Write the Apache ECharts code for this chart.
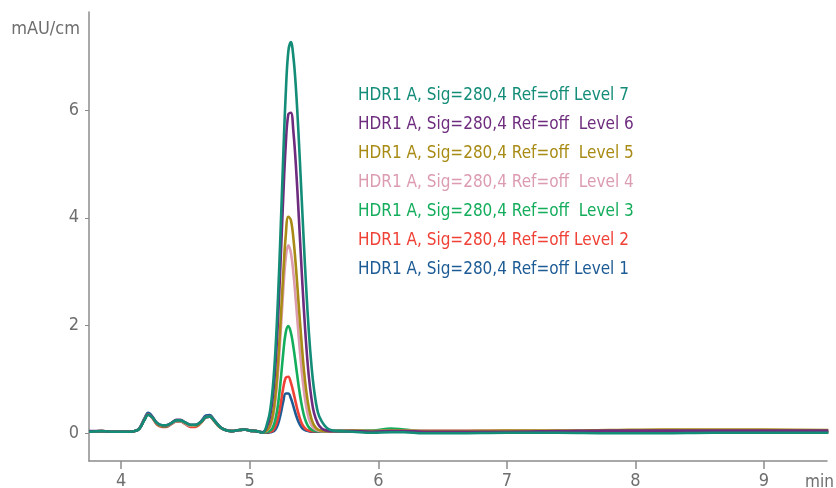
<!DOCTYPE html>
<html>
<head>
<meta charset="utf-8">
<title>HDR1 A, Sig=280,4 Ref=off</title>
<script src="https://cdn.jsdelivr.net/npm/echarts@6/dist/echarts.min.js"></script>
<style>
  html, body { margin: 0; padding: 0; background: #fff; }
  #chart { width: 836px; height: 488px; }
</style>
</head>
<body>
<div id="chart"></div>
<script>
  // retention time (min): before peak, main peak, after peak
  const times = [
    3.75, 3.85, 3.95, 4.05, 4.10, 4.14, 4.18, 4.21, 4.24, 4.28, 4.32, 4.35, 4.39, 4.43, 4.46,
    4.50, 4.54, 4.58, 4.62, 4.66, 4.69, 4.72, 4.76, 4.80, 4.86, 4.92, 4.96, 5.00, 5.05, 5.10,
    5.14, 5.16, 5.18, 5.20, 5.22, 5.24, 5.26, 5.28, 5.30, 5.32, 5.34, 5.36, 5.38, 5.40, 5.42,
    5.44, 5.46, 5.48, 5.50, 5.53, 5.56, 5.60, 5.65, 5.70,
    5.80, 5.95, 6.10, 6.20, 6.35, 6.60, 7.00, 7.40, 7.80, 8.20, 8.60, 9.00, 9.50
  ]

  // absorbance (mAU/cm) per calibration level
  const level1 = [
    0.03, 0.04, 0.03, 0.03, 0.04, 0.09, 0.27, 0.38, 0.32, 0.18, 0.14, 0.14, 0.18, 0.23, 0.23,
    0.18, 0.14, 0.15, 0.22, 0.33, 0.34, 0.26, 0.14, 0.07, 0.04, 0.06, 0.07, 0.05, 0.04, 0.02,
    0.01, 0.02, 0.03, 0.07, 0.17, 0.35, 0.58, 0.74, 0.74, 0.65, 0.50, 0.34, 0.21, 0.12, 0.07,
    0.05, 0.04, 0.03, 0.03, 0.03, 0.03, 0.03, 0.03, 0.03,
    0.03, 0.03, 0.04, 0.03, 0.03, 0.02, 0.02, 0.02, 0.02, 0.02, 0.02, 0.02, 0.02
  ]
  const level2 = [
    0.03, 0.04, 0.03, 0.03, 0.04, 0.08, 0.25, 0.35, 0.29, 0.16, 0.12, 0.12, 0.17, 0.22, 0.22,
    0.17, 0.12, 0.12, 0.19, 0.30, 0.31, 0.24, 0.13, 0.07, 0.04, 0.06, 0.07, 0.05, 0.04, 0.02,
    0.02, 0.03, 0.05, 0.13, 0.28, 0.53, 0.83, 1.03, 1.05, 0.94, 0.76, 0.55, 0.36, 0.21, 0.12,
    0.07, 0.05, 0.04, 0.04, 0.04, 0.04, 0.04, 0.04, 0.04,
    0.04, 0.04, 0.05, 0.05, 0.04, 0.04, 0.04, 0.03, 0.03, 0.03, 0.03, 0.03, 0.03
  ]
  const level3 = [
    0.03, 0.03, 0.03, 0.03, 0.04, 0.08, 0.25, 0.35, 0.30, 0.17, 0.13, 0.13, 0.18, 0.23, 0.23,
    0.18, 0.14, 0.14, 0.20, 0.30, 0.31, 0.24, 0.13, 0.07, 0.04, 0.06, 0.07, 0.05, 0.04, 0.02,
    0.03, 0.05, 0.11, 0.26, 0.53, 0.96, 1.47, 1.87, 1.99, 1.87, 1.60, 1.25, 0.89, 0.58, 0.35,
    0.20, 0.11, 0.07, 0.05, 0.04, 0.04, 0.04, 0.04, 0.05,
    0.05, 0.05, 0.09, 0.07, 0.04, 0.03, 0.03, 0.03, 0.03, 0.02, 0.02, 0.02, 0.02
  ]
  const level4 = [
    0.03, 0.04, 0.03, 0.03, 0.04, 0.08, 0.25, 0.35, 0.30, 0.18, 0.14, 0.14, 0.18, 0.23, 0.23,
    0.18, 0.14, 0.15, 0.20, 0.30, 0.31, 0.24, 0.13, 0.07, 0.04, 0.06, 0.07, 0.05, 0.04, 0.02,
    0.06, 0.13, 0.29, 0.61, 1.13, 1.85, 2.63, 3.25, 3.49, 3.35, 2.97, 2.42, 1.82, 1.27, 0.82,
    0.49, 0.27, 0.15, 0.09, 0.05, 0.04, 0.04, 0.04, 0.04,
    0.05, 0.04, 0.05, 0.05, 0.05, 0.05, 0.05, 0.05, 0.05, 0.05, 0.05, 0.05, 0.04
  ]
  const level5 = [
    0.03, 0.04, 0.03, 0.03, 0.04, 0.08, 0.25, 0.35, 0.30, 0.18, 0.14, 0.14, 0.19, 0.24, 0.24,
    0.19, 0.15, 0.15, 0.20, 0.30, 0.31, 0.24, 0.13, 0.07, 0.04, 0.06, 0.07, 0.05, 0.04, 0.02,
    0.07, 0.16, 0.35, 0.71, 1.29, 2.07, 2.93, 3.66, 4.02, 3.96, 3.61, 3.07, 2.42, 1.79, 1.22,
    0.78, 0.47, 0.27, 0.15, 0.07, 0.05, 0.04, 0.04, 0.04,
    0.05, 0.04, 0.05, 0.05, 0.04, 0.04, 0.05, 0.05, 0.06, 0.07, 0.07, 0.07, 0.06
  ]
  const level6 = [
    0.04, 0.04, 0.03, 0.03, 0.04, 0.08, 0.25, 0.35, 0.31, 0.19, 0.15, 0.15, 0.19, 0.25, 0.25,
    0.20, 0.16, 0.16, 0.21, 0.30, 0.31, 0.25, 0.14, 0.07, 0.04, 0.06, 0.07, 0.05, 0.04, 0.02,
    0.16, 0.34, 0.68, 1.26, 2.11, 3.18, 4.34, 5.34, 5.92, 5.95, 5.59, 4.94, 4.10, 3.20, 2.35,
    1.62, 1.05, 0.65, 0.38, 0.18, 0.09, 0.05, 0.04, 0.04,
    0.04, 0.03, 0.04, 0.04, 0.03, 0.03, 0.03, 0.04, 0.05, 0.05, 0.05, 0.05, 0.05
  ]
  const level7 = [
    0.03, 0.04, 0.03, 0.03, 0.04, 0.08, 0.24, 0.34, 0.30, 0.19, 0.15, 0.15, 0.19, 0.24, 0.24,
    0.20, 0.16, 0.16, 0.21, 0.30, 0.31, 0.25, 0.14, 0.07, 0.04, 0.06, 0.07, 0.05, 0.04, 0.01,
    0.22, 0.44, 0.86, 1.54, 2.51, 3.75, 5.09, 6.29, 7.08, 7.26, 6.98, 6.38, 5.54, 4.57, 3.58,
    2.67, 1.88, 1.27, 0.82, 0.39, 0.22, 0.10, 0.05, 0.04,
    0.03, 0.01, 0.02, 0.02, 0.00, 0.00, 0.01, 0.01, 0.00, 0.00, 0.01, 0.01, 0.01
  ]

  const seriesNames = [
    'HDR1 A, Sig=280,4 Ref=off Level 1',
    'HDR1 A, Sig=280,4 Ref=off Level 2',
    'HDR1 A, Sig=280,4 Ref=off  Level 3',
    'HDR1 A, Sig=280,4 Ref=off  Level 4',
    'HDR1 A, Sig=280,4 Ref=off  Level 5',
    'HDR1 A, Sig=280,4 Ref=off  Level 6',
    'HDR1 A, Sig=280,4 Ref=off Level 7'
  ]
  const xTicks = [4, 5, 6, 7, 8, 9]
  const yTicks = [0, 2, 4, 6]

  const levels = [level1, level2, level3, level4, level5, level6, level7]
  const colors = ['#1d5b95', '#ef4136', '#14ad5c', '#dc9cb0', '#a88b14', '#6e2c7e', '#138c78']
  const font = "'Liberation Sans Narrow', 'DejaVu Sans Condensed', sans-serif"
  const axisColor = '#8c8c8c'
  const labelColor = '#6e6e6e'

  const series = levels.map((vals, i) => {
    return {
      name: seriesNames[i],
      type: 'line',
      smooth: 0.4,
      symbol: 'none',
      lineStyle: { color: colors[i], width: 2.6 },
      itemStyle: { color: colors[i] },
      data: times.map((t, k) => [t, vals[k]])
    }
  })

  // legend lists the highest level first
  const legendData = seriesNames.map((name, i) => {
    return { name: name, textStyle: { color: colors[i] } }
  }).reverse()

  const chart = echarts.init(document.getElementById('chart'), null, { renderer: 'canvas' })
  chart.setOption({
    animation: false,
    textStyle: { fontFamily: font },
    // fixed plot box, labels may sit outside it
    grid: { left: 89, right: 9, top: 12, bottom: 27, containLabel: false, outerBoundsMode: 'none' },
    legend: {
      orient: 'vertical',
      left: 348,
      top: 81,
      icon: 'rect',
      itemWidth: 0,
      itemHeight: 0,
      itemGap: 9,
      selectedMode: false,
      textStyle: { fontFamily: font, fontSize: 17, lineHeight: 20 },
      data: legendData
    },
    xAxis: {
      type: 'value',
      min: 3.75,
      max: 9.49,
      name: 'min',
      nameLocation: 'end',
      nameGap: -22,
      nameTextStyle: { color: labelColor, fontSize: 17, verticalAlign: 'top', padding: [13, 0, 0, 0] },
      axisLine: { show: true, onZero: false, lineStyle: { color: axisColor, width: 1.5 } },
      axisTick: { show: true, length: 8, customValues: xTicks, lineStyle: { color: axisColor, width: 1.5 } },
      axisLabel: { customValues: xTicks, color: labelColor, fontSize: 18, margin: 11 },
      splitLine: { show: false }
    },
    yAxis: {
      type: 'value',
      min: -0.514,
      max: 7.82,
      name: 'mAU/cm',
      nameLocation: 'end',
      nameGap: -17.5,
      nameTextStyle: { color: labelColor, fontSize: 18, align: 'right', verticalAlign: 'middle', padding: [0, 9, 0, 0] },
      axisLine: { show: true, onZero: false, lineStyle: { color: axisColor, width: 1.5 } },
      axisTick: { show: true, length: 4, customValues: yTicks, lineStyle: { color: axisColor, width: 1 } },
      axisLabel: { customValues: yTicks, color: labelColor, fontSize: 18, margin: 10 },
      splitLine: { show: false }
    },
    series: series
  })
</script>
</body>
</html>
